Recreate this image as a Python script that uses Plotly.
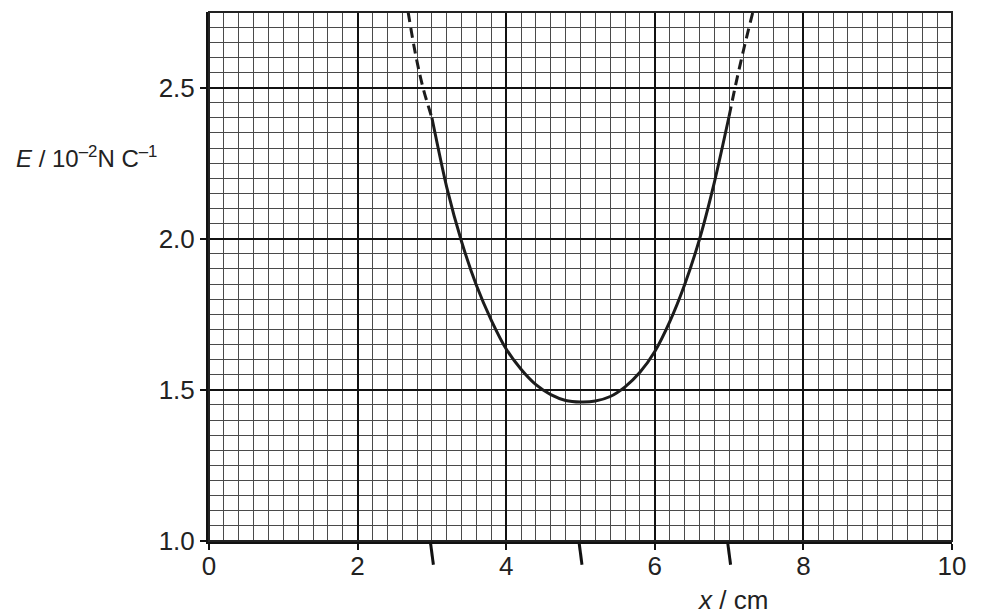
import plotly.graph_objects as go

# Data
x_solid = [3.0, 3.2, 3.4, 3.6, 3.8, 4.0, 4.2, 4.4, 4.6, 4.8, 5.0,
           5.2, 5.4, 5.6, 5.8, 6.0, 6.2, 6.4, 6.6, 6.8, 7.0]
E_solid = [2.40, 2.17, 1.99, 1.845, 1.73, 1.635, 1.568, 1.517, 1.484, 1.465, 1.46,
           1.463, 1.478, 1.51, 1.558, 1.627, 1.725, 1.847, 1.997, 2.185, 2.405]
x_dash_left = [2.68, 2.78, 2.88, 3.0]
E_dash_left = [2.75, 2.61, 2.50, 2.40]
x_dash_right = [7.0, 7.08, 7.2, 7.32]
E_dash_right = [2.405, 2.50, 2.63, 2.75]

x_ticks = [0, 2, 4, 6, 8, 10]
y_ticks = [1.0, 1.5, 2.0, 2.5]
pen_marks_x = [3, 5, 7]

FONT = "Liberation Sans, Arial, sans-serif"
line_col = "#1c1c1c"

fig = go.Figure()
fig.add_trace(go.Scatter(x=x_dash_left, y=E_dash_left, mode="lines",
                         line=dict(color=line_col, width=3, dash="10px,6px", shape="spline"),
                         showlegend=False, hoverinfo="skip"))
fig.add_trace(go.Scatter(x=x_solid, y=E_solid, mode="lines",
                         line=dict(color=line_col, width=3, shape="spline", smoothing=0.8),
                         showlegend=False))
fig.add_trace(go.Scatter(x=x_dash_right, y=E_dash_right, mode="lines",
                         line=dict(color=line_col, width=3, dash="10px,6px", shape="spline"),
                         showlegend=False, hoverinfo="skip"))

fig.update_xaxes(range=[0, 10], tickvals=x_ticks, ticktext=[str(v) for v in x_ticks],
                 showgrid=True, gridcolor="#111111", gridwidth=1.8,
                 minor=dict(dtick=0.2, tick0=0, showgrid=True, gridcolor="#4a4a4a", gridwidth=1.1),
                 showline=True, linecolor="#111111", linewidth=3,
                 ticks="outside", ticklen=6, tickwidth=2, tickcolor="#111111",
                 ticklabelstandoff=-6, ticklabeloverflow="allow",
                 zeroline=False, tickfont=dict(size=26, color="#222222", family=FONT))
fig.update_yaxes(range=[1.0, 2.75], tickvals=y_ticks, ticktext=[f"{v:.1f}" for v in y_ticks],
                 showgrid=True, gridcolor="#111111", gridwidth=1.8,
                 minor=dict(dtick=0.05, tick0=1.0, showgrid=True, gridcolor="#4a4a4a", gridwidth=1.1),
                 showline=True, linecolor="#111111", linewidth=3,
                 ticks="outside", ticklen=6, tickwidth=2, tickcolor="#111111",
                 zeroline=False, tickfont=dict(size=26, color="#222222", family=FONT))

shapes = [dict(type="rect", xref="paper", yref="paper", x0=0, x1=1, y0=0, y1=1,
               line=dict(color="#222222", width=2), layer="above")]
# hand-drawn pen marks below the axis
for xm in pen_marks_x:
    shapes.append(dict(type="line", xref="x", yref="paper",
                       x0=xm - 0.02, x1=xm + 0.02, y0=-0.002, y1=-0.045,
                       line=dict(color="#111111", width=3)))
fig.update_layout(shapes=shapes)

fig.add_annotation(xref="paper", yref="paper", x=-0.165, y=0.725, xanchor="center", yanchor="middle",
                   text="<i>E</i> / 10<sup>–2</sup>N C<sup>–1</sup>", showarrow=False,
                   font=dict(size=24, color="#222222", family=FONT))
fig.add_annotation(xref="x", yref="paper", x=7.05, y=-0.112, xanchor="center", yanchor="middle",
                   text="<i>x</i> / cm", showarrow=False,
                   font=dict(size=26, color="#222222", family=FONT))

fig.update_layout(width=976, height=615, autosize=False,
                  margin=dict(l=209, r=10, t=12, b=74),
                  paper_bgcolor="white", plot_bgcolor="white",
                  font=dict(family=FONT))

fig.write_html("out.html",
               config=dict(responsive=False, displayModeBar=False),
               post_script="document.body.style.margin='0';document.body.style.overflow='hidden';")
